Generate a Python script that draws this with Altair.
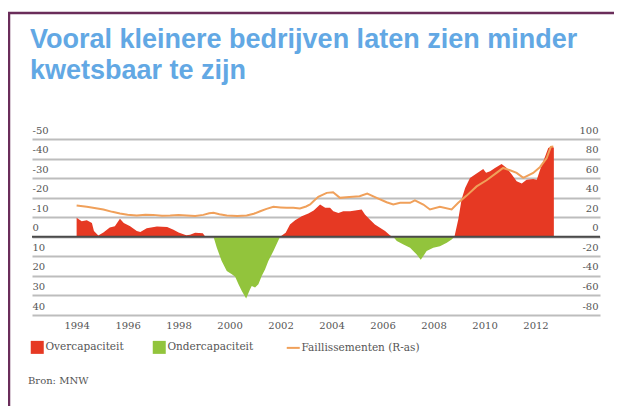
import altair as alt
import pandas as pd

# ---------------- data ----------------
TITLE_LINES = ["Vooral kleinere bedrijven laten zien minder", "kwetsbaar te zijn"]
SOURCE_TEXT = ["Bron: MNW"]
SERIES = ["Overcapaciteit", "Ondercapaciteit", "Faillissementen (R-as)"]
COLORS = ["#e63923", "#92c43c", "#f0a05a"]

# capacity gap (left axis, inverted: negative = overcapacity)
cap_years = [1994.00, 1994.20, 1994.40, 1994.60, 1994.68, 1994.85, 1995.05, 1995.30, 1995.50,
             1995.70, 1995.85, 1996.10, 1996.36, 1996.50, 1996.75, 1997.15, 1997.55, 1997.80,
             1998.00, 1998.30, 1998.45, 1998.65, 1998.95, 1999.05, 1999.37, 1999.50, 1999.69,
             1999.89, 2000.09, 2000.22, 2000.35, 2000.48, 2000.65, 2000.80, 2000.87, 2001.00,
             2001.13, 2001.26, 2001.39, 2001.52, 2001.72, 2001.87, 2001.98, 2002.20, 2002.37,
             2002.57, 2002.83, 2003.09, 2003.30, 2003.55, 2003.75, 2003.94, 2004.07, 2004.27,
             2004.46, 2004.73, 2004.99, 2005.18, 2005.31, 2005.50, 2005.70, 2005.90, 2006.10,
             2006.30, 2006.42, 2006.56, 2006.82, 2007.08, 2007.34, 2007.50, 2007.73, 2007.99,
             2008.25, 2008.52, 2008.71, 2008.82, 2008.97, 2009.10, 2009.24, 2009.43, 2009.63,
             2009.82, 2009.95, 2010.06, 2010.22, 2010.41, 2010.67, 2010.87, 2011.07, 2011.26,
             2011.46, 2011.65, 2011.91, 2012.05, 2012.18, 2012.33, 2012.50, 2012.64, 2012.72]
cap_values = [-9.7, -8.0, -8.5, -7.0, -3.0, -0.7, -2.2, -4.7, -5.4,
              -9.2, -7.1, -5.4, -2.9, -2.5, -4.3, -5.2, -5.0, -3.6,
              -2.2, -0.8, -1.0, -2.0, -1.8, 0.0, 0.0, 5.6, 12.4,
              17.5, 19.2, 20.4, 24.3, 27.7, 31.6, 26.9, 25.2, 26.0,
              24.3, 20.1, 16.7, 12.4, 7.3, 3.0, 0.0, -2.0, -6.3,
              -8.5, -10.5, -11.9, -13.5, -16.5, -14.8, -14.8, -13.0, -12.2,
              -13.0, -13.0, -13.6, -13.9, -11.4, -8.8, -6.3, -4.6, -2.9,
              -0.7, 0.0, 2.2, 3.9, 5.6, 9.0, 11.8, 7.3, 5.6,
              4.8, 3.1, 1.4, 0.0, -8.8, -19.0, -25.0, -30.1, -31.8,
              -33.5, -34.7, -32.7, -33.5, -35.2, -37.2, -35.2, -31.8, -28.4,
              -27.2, -29.2, -29.6, -29.2, -34.3, -39.4, -45.4, -46.2, -45.5]

# bankruptcies (right axis)
fail_years = [1994.00, 1994.40, 1994.70, 1995.05, 1995.40, 1995.70, 1996.00, 1996.36, 1996.70,
              1997.00, 1997.35, 1997.67, 1998.00, 1998.32, 1998.65, 1998.97, 1999.20, 1999.37,
              1999.60, 1999.89, 2000.30, 2000.67, 2000.95, 2001.20, 2001.45, 2001.72, 2002.00,
              2002.24, 2002.50, 2002.76, 2003.00, 2003.16, 2003.30, 2003.48, 2003.81, 2004.06,
              2004.33, 2004.70, 2005.10, 2005.40, 2005.77, 2006.16, 2006.42, 2006.69, 2007.08,
              2007.27, 2007.60, 2007.86, 2008.25, 2008.71, 2008.97, 2009.30, 2009.69, 2010.08,
              2010.47, 2010.73, 2011.00, 2011.26, 2011.52, 2011.91, 2012.18, 2012.44, 2012.60,
              2012.70]
fail_values = [32.0, 30.6, 29.5, 27.9, 25.5, 23.8, 22.5, 21.7, 22.5,
               22.4, 21.5, 21.7, 22.2, 21.7, 21.2, 22.4, 24.0, 24.5,
               23.0, 21.7, 21.2, 21.7, 23.5, 26.1, 28.5, 30.6, 30.0,
               29.6, 29.8, 29.0, 31.0, 33.0, 36.5, 40.8, 44.9, 45.5,
               39.8, 40.8, 41.4, 44.2, 39.8, 35.3, 33.0, 34.7, 34.7,
               37.3, 33.0, 27.9, 30.6, 27.9, 34.7, 42.1, 51.5, 57.8,
               65.3, 70.4, 68.0, 65.3, 60.2, 65.3, 71.4, 80.6, 92.0,
               92.4]

x_ticks = [1994, 1996, 1998, 2000, 2002, 2004, 2006, 2008, 2010, 2012]
left_ticks = [-50, -40, -30, -20, -10, 0, 10, 20, 30, 40]
right_ticks = [-80, -60, -40, -20, 0, 20, 40, 60, 80, 100]
zero_level = [0]

X_DOMAIN = [1992.25, 2014.53]
LEFT_DOMAIN = [-50, 40]
RIGHT_DOMAIN = [-80, 100]

# ---------------- style ----------------
SERIF = "DejaVu Serif"
GREY = "#555555"
FRAME = "#6a2d5a"
TITLE_BLUE = "#62a8e4"
HYPHEN_LABEL = "datum.value < 0 ? '-' + abs(datum.value) : '' + datum.value"

cap_df = pd.DataFrame({"jaar": cap_years, "v": cap_values})
fail_df = pd.DataFrame({"jaar": fail_years, "f": fail_values})
zero_df = pd.DataFrame({"z": zero_level})
dummy_df = pd.DataFrame({"k": [0]})
src_df = pd.DataFrame({"t": SOURCE_TEXT})

x_scale = alt.Scale(domain=X_DOMAIN, nice=False, zero=False)
x_axis = alt.Axis(values=x_ticks, format="d", title=None, grid=False, domain=False,
                  ticks=False, tickSize=0, labelPadding=5, labelFont=SERIF,
                  labelFontSize=10, labelColor=GREY, labelFlush=False, labelOverlap=False)
left_axis = alt.Axis(values=left_ticks, orient="left", title=None, grid=True,
                     gridColor="#bdbdbd", gridWidth=2, domain=False, ticks=False, tickSize=0,
                     labelAlign="left", labelPadding=0, labelBaseline="middle", labelOffset=-9,
                     labelFont=SERIF, labelFontSize=10, labelColor=GREY,
                     labelFlush=False, labelOverlap=False, labelExpr=HYPHEN_LABEL)
right_axis = alt.Axis(values=right_ticks, orient="right", title=None, grid=False,
                      domain=False, ticks=False, tickSize=0,
                      labelAlign="right", labelPadding=-2, labelBaseline="middle", labelOffset=-9,
                      labelFont=SERIF, labelFontSize=10, labelColor=GREY,
                      labelFlush=False, labelOverlap=False, labelExpr=HYPHEN_LABEL)
left_scale = alt.Scale(domain=LEFT_DOMAIN, reverse=True, nice=False, zero=False)
right_scale = alt.Scale(domain=RIGHT_DOMAIN, nice=False, zero=False)
color_scale = alt.Scale(domain=SERIES, range=COLORS)

COND = "datum.value === 'Faillissementen (R-as)'"


def make_legend(mode):
    common = dict(title=None, orient="none", legendX=0, legendY=203, direction="horizontal",
                  symbolSize=169, labelFont=SERIF, labelFontSize=10.5, labelColor=GREY,
                  labelOffset=3, columnPadding=28, padding=0, rowPadding=0)
    if mode == "encode":
        return alt.Legend(symbolType="square", encode={
            "symbols": {"update": {
                "shape": {"signal": f"{COND} ? 'stroke' : 'square'"},
                "stroke": {"signal": f"{COND} ? '{COLORS[2]}' : 'transparent'"},
                "strokeWidth": {"signal": f"{COND} ? 2 : 0"}}},
            "labels": {"update": {"font": {"value": SERIF}}}}, **common)
    if mode == "expr":
        return alt.Legend(symbolType=alt.ExprRef(f"{COND} ? 'stroke' : 'square'"),
                          symbolStrokeColor=alt.ExprRef(f"{COND} ? '{COLORS[2]}' : 'transparent'"),
                          symbolStrokeWidth=alt.ExprRef(f"{COND} ? 2 : 0"), **common)
    return alt.Legend(symbolType="square", **common)


def build(mode):
    legend = make_legend(mode)
    area = (
        alt.Chart(cap_df)
        .transform_calculate(Overcapaciteit="min(datum.v, 0)", Ondercapaciteit="max(datum.v, 0)")
        .transform_fold(["Overcapaciteit", "Ondercapaciteit"], as_=["serie", "waarde"])
        .mark_area(interpolate="linear", opacity=1)
        .encode(
            x=alt.X("jaar:Q", scale=x_scale, axis=x_axis),
            y=alt.Y("waarde:Q", scale=left_scale, axis=left_axis, stack=None),
            color=alt.Color("serie:N", scale=color_scale, legend=legend),
        )
    )
    zero_rule = alt.Chart(zero_df).mark_rule(color="#4a4a4a", strokeWidth=2).encode(
        y=alt.Y("z:Q", scale=left_scale, axis=left_axis)
    )
    left = alt.layer(area, zero_rule)

    line = (
        alt.Chart(fail_df)
        .transform_calculate(serie="'Faillissementen (R-as)'")
        .mark_line(strokeWidth=2, interpolate="linear")
        .encode(
            x=alt.X("jaar:Q", scale=x_scale, axis=x_axis),
            y=alt.Y("f:Q", scale=right_scale, axis=right_axis),
            color=alt.Color("serie:N", scale=color_scale, legend=legend),
        )
    )

    frame_top = alt.Chart(dummy_df).mark_rule(color=FRAME, strokeWidth=2.5).encode(
        x=alt.value(-24), x2=alt.value(590), y=alt.value(-126)
    )
    frame_left = alt.Chart(dummy_df).mark_rule(color=FRAME, strokeWidth=2.5).encode(
        x=alt.value(-23), y=alt.value(-126), y2=alt.value(270)
    )
    source = alt.Chart(src_df).mark_text(
        align="left", baseline="alphabetic", font=SERIF, fontSize=10, color=GREY
    ).encode(text="t:N", x=alt.value(-4), y=alt.value(245))

    chart = (
        alt.layer(left, line, frame_top, frame_left, source)
        .resolve_scale(y="independent")
        .properties(
            width=568,
            height=176,
            padding={"left": 24, "top": 131, "right": 14, "bottom": 91},
            autosize=alt.AutoSizeParams(type="none"),
            title=alt.TitleParams(
                text=TITLE_LINES, anchor="start", frame="group", orient="top",
                font="Liberation Sans", fontSize=27, fontWeight="bold", color=TITLE_BLUE,
                lineHeight=31, baseline="alphabetic", offset=0, dx=-2, dy=94,
            ),
        )
        .configure(background="white", font=SERIF)
        .configure_view(strokeWidth=0)
        .configure_axis(labelFont=SERIF)
        .configure_legend(labelFont=SERIF, labelFontSize=10.5, labelColor=GREY)
    )
    return chart


chart = None
for mode in ["encode", "expr", "plain"]:
    try:
        c = build(mode)
        c.to_dict()
        chart = c
        break
    except Exception:
        continue

chart.save("out.html", embed_options={"renderer": "svg", "actions": False})
